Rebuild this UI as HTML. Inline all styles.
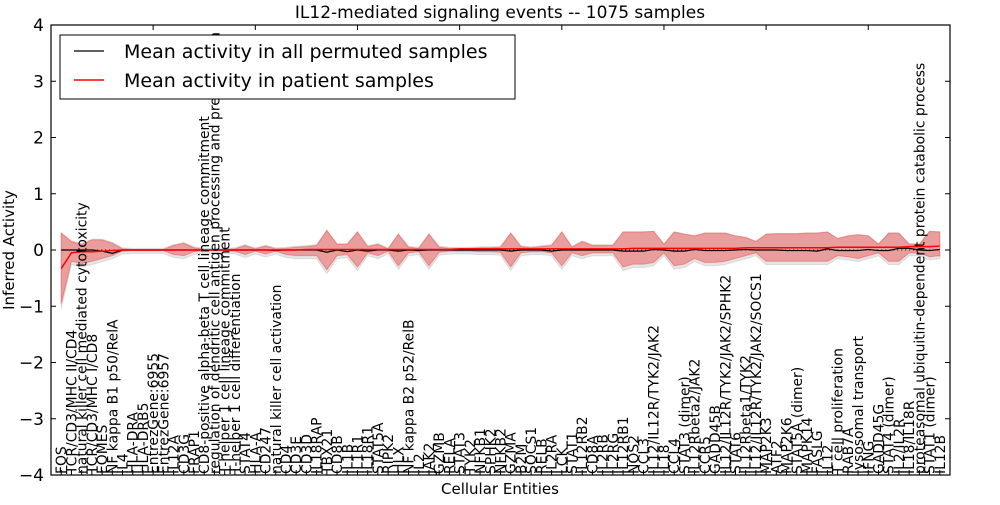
<!DOCTYPE html>
<html><head><meta charset="utf-8"><style>
body{margin:0;background:#fff;width:1000px;height:500px;overflow:hidden}
svg{font-family:"DejaVu Sans","Liberation Sans",sans-serif}
</style></head><body>
<svg id="chart" width="1000" height="500"></svg>
<script>
const labels=["FOS","TCR/CD3/MHC II/CD4","natural killer cell mediated cytotoxicity","TCR/CD3/MHC I/CD8","EOMES","NF kappa B1 p50/RelA","IL4","HLA-DRA","HLA-DRB5","EntrezGene:6955","EntrezGene:6957","IL12A","CD3G","FRAP1","CD8-positive alpha-beta T cell lineage commitment","regulation of dendritic cell antigen processing and presentation","T-helper 1 cell lineage commitment","T-helper 1 cell differentiation","STAT4","HLA-A","CD247","natural killer cell activation","CD4","CD3E","CD3D","IL18RAP","TBX21","CD8B","IL1B","IL1R1","IL18R1","STAT5A","RIPK2","HLX","NF kappa B2 p52/RelB","IL2","JAK2","GZMB","RELA","STAT3","TYK2","NFKB1","SPHK2","NFKB2","GZMA","B2M","SOCS1","RELB","IL2RA","LCK","STAT1","IL12RB2","CD8A","IL2RB","IL2RG","IL12RB1","NOS2","CCL3","IL12/IL12R/TYK2/JAK2","IL18","CCL4","STAT3 (dimer)","IL12Rbeta2/JAK2","CCR5","GADD45B","IL12/IL12R/TYK2/JAK2/SPHK2","STAT6","IL12Rbeta1/TYK2","IL12/IL12R/TYK2/JAK2/SOCS1","MAP2K3","ATF2","MAP2K6","STAT5A (dimer)","MAPK14","FASLG","IL12","T cell proliferation","RAB7A","lysosomal transport","IFNG","GADD45G","STAT4 (dimer)","IL2/IL2R","IL18/IL18R","proteasomal ubiquitin-dependent protein catabolic process","STAT1 (dimer)","IL12B"];
const patientMean=[-0.33,-0.05,-0.03,-0.03,-0.02,-0.01,0,0,0,0,0,0,0,0,0,0,0,0,0,0,0,0,0,0,0.01,0.01,0.01,0.01,0.01,0.01,0.01,0.01,0.01,0.01,0.01,0.01,0.01,0.01,0.01,0.02,0.02,0.02,0.02,0.02,0.02,0.02,0.02,0.02,0.02,0.02,0.02,0.02,0.02,0.02,0.02,0.02,0.03,0.03,0.03,0.03,0.03,0.03,0.03,0.03,0.03,0.03,0.03,0.04,0.04,0.04,0.04,0.04,0.04,0.04,0.04,0.04,0.05,0.05,0.05,0.05,0.05,0.05,0.05,0.06,0.06,0.06,0.07];
const permMean=[0,0,0,0,-0.02,-0.06,0,0,0,0,0,0,0,0,0,0,0,0,0,0,0,-0.01,0,0,0,0,-0.04,0,-0.03,0,-0.02,0,0,-0.02,0,-0.01,0,0,0,0,0,0,0,0,-0.02,0,0,0,-0.02,0,0,0,0,0,0,-0.02,-0.02,-0.02,0.01,0,-0.02,-0.02,0.01,-0.01,-0.01,-0.01,0,0.01,0,0,0,-0.01,-0.01,-0.01,-0.02,0.02,-0.01,-0.01,-0.01,0.01,-0.01,-0.01,0.03,0.03,0,-0.01,0.01];
const patientUpper=[0.3,0.15,0.1,0.18,0.18,0.12,0.02,0.01,0.01,0.01,0.01,0.08,0.12,0.04,0.01,0.01,0.01,0.02,0.08,0.02,0.07,0.02,0.03,0.05,0.06,0.08,0.35,0.1,0.1,0.32,0.06,0.1,0.02,0.28,0.05,0.03,0.28,0.05,0.03,0.03,0.03,0.04,0.04,0.05,0.3,0.06,0.04,0.06,0.08,0.32,0.05,0.15,0.08,0.08,0.08,0.32,0.32,0.32,0.33,0.1,0.32,0.28,0.25,0.3,0.3,0.3,0.25,0.22,0.15,0.28,0.29,0.29,0.29,0.3,0.3,0.32,0.2,0.25,0.27,0.25,0.1,0.3,0.3,0.1,0.1,0.33,0.32];
const patientLower=[-0.95,-0.2,-0.24,-0.2,-0.15,-0.1,-0.02,-0.01,-0.01,-0.01,-0.01,-0.08,-0.1,-0.03,-0.01,-0.01,-0.01,-0.02,-0.08,-0.02,-0.07,-0.02,-0.08,-0.1,-0.1,-0.1,-0.35,-0.1,-0.08,-0.3,-0.05,-0.1,-0.02,-0.28,-0.05,-0.03,-0.28,-0.04,-0.02,-0.02,-0.02,-0.03,-0.03,-0.04,-0.3,-0.05,-0.03,-0.03,-0.05,-0.28,-0.05,-0.1,-0.05,-0.05,-0.05,-0.3,-0.25,-0.25,-0.22,-0.05,-0.28,-0.25,-0.15,-0.22,-0.22,-0.2,-0.15,-0.1,-0.05,-0.2,-0.2,-0.2,-0.2,-0.2,-0.2,-0.2,-0.1,-0.12,-0.15,-0.1,-0.05,-0.2,-0.2,-0.05,-0.05,-0.12,-0.1];
const yTicks=[4,3,2,1,0,-1,-2,-3,-4];
const yTickLabels=["4","3","2","1","0","\u22121","\u22122","\u22123","\u22124"];
const xTicks=[0,10,20,30,40,50,60,70,80];

const NS="http://www.w3.org/2000/svg";
const svg=document.getElementById('chart');
const L=51,R=950,T=25,B=475,XMAX=88;
const N=labels.length;
const xs=i=>L+(i/XMAX)*(R-L);
const ys=v=>T+(4-v)/8*(B-T);
function mk(tag,attrs,parent){const e=document.createElementNS(NS,tag);for(const k in attrs)e.setAttribute(k,attrs[k]);(parent||svg).appendChild(e);return e;}
function band(up,lo,fill,op,name){
  up=up.slice(0,N);lo=lo.slice(0,N);
  let d='';up.forEach((v,i)=>{d+=(i?'L':'M')+xs(i+1)+','+ys(v);});
  for(let i=lo.length-1;i>=0;i--)d+='L'+xs(i+1)+','+ys(lo[i]);
  const p=mk('path',{d:d+'Z',fill:fill,'fill-opacity':op,stroke:fill,'stroke-opacity':op,'stroke-width':1});
  
  
}
function line(vals,color,w,name,dash){
  vals=vals.slice(0,N);
  const p=mk('polyline',{points:vals.map((v,i)=>xs(i+1)+','+ys(v)).join(' '),fill:'none',stroke:color,'stroke-width':w});
  if(dash)p.setAttribute('stroke-dasharray',dash);
  
  
}
band(patientUpper.map(v=>v*0.95+0.02),patientLower.map(v=>v*1.05-0.05),'#aaaaaa',0.3,'permuted-band');
band(patientUpper,patientLower,'#ee4444',0.45,'patient-band');
line(permMean.map(()=>0),'#000',1,'zero-dotted-line','1,3');
line(permMean,'#000',1.2,'permuted-mean-line');
line(patientMean,'#ff0000',1.5,'patient-mean-line');
const fr=mk('rect',{x:L,y:T,width:R-L,height:B-T,fill:'none',stroke:'#000','stroke-width':1.2});

yTicks.forEach((v,i)=>{
  mk('line',{x1:L,x2:L+5,y1:ys(v),y2:ys(v),stroke:'#000'});
  mk('line',{x1:R,x2:R-5,y1:ys(v),y2:ys(v),stroke:'#000'});
  const t=mk('text',{x:L-7,y:ys(v)+6,'text-anchor':'end','font-size':17});
  t.textContent=yTickLabels[i];
  
  
});
xTicks.forEach(v=>{mk('line',{x1:xs(v),x2:xs(v),y1:T,y2:T+5,stroke:'#000'});});
labels.forEach((s,i)=>{
  const x=xs(i+1);
  mk('line',{x1:x,x2:x,y1:B,y2:B-5,stroke:'#000'});
  const t=mk('text',{x:0,y:0,transform:`translate(${x+5},${B-1}) rotate(-90)`,'font-size':13.9});
  t.textContent=s;
  
  
});
const ti=mk('text',{x:500,y:18,'text-anchor':'middle','font-size':17});ti.textContent='IL12-mediated signaling events -- 1075 samples';

const xl=mk('text',{x:500,y:494,'text-anchor':'middle','font-size':15});xl.textContent='Cellular Entities';

const yl=mk('text',{x:0,y:0,transform:'translate(14,250) rotate(-90)','text-anchor':'middle','font-size':15});yl.textContent='Inferred Activity';

const lg=mk('g',{});

mk('rect',{x:60,y:35,width:455,height:64,fill:'#fff',stroke:'#000','stroke-width':1},lg);
mk('line',{x1:74,x2:104,y1:51,y2:51,stroke:'#000','stroke-width':1.2},lg);
mk('line',{x1:74,x2:104,y1:80,y2:80,stroke:'#f00','stroke-width':1.5},lg);
const e1=mk('text',{x:124,y:58,'font-size':19},lg);e1.textContent='Mean activity in all permuted samples';

const e2=mk('text',{x:124,y:87,'font-size':19},lg);e2.textContent='Mean activity in patient samples';

</script>
</body></html>
